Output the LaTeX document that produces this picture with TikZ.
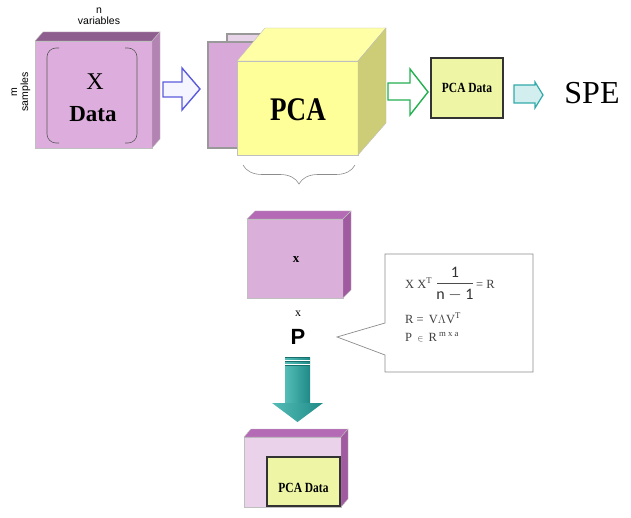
\documentclass[tikz,border=0pt]{standalone}
\usepackage{fontspec}
\setmainfont{Liberation Serif}
\newfontfamily\sansf{Liberation Sans}
\newfontfamily\condf[FakeStretch=0.82]{Liberation Serif}
\newfontfamily\carl{Carlito}
\usetikzlibrary{decorations.pathreplacing}
\definecolor{dfront}{HTML}{DDADDD}
\definecolor{dtop}{HTML}{8E5E8E}
\definecolor{dside}{HTML}{B383B3}
\definecolor{xfront}{HTML}{DAB0DA}
\definecolor{xtop}{HTML}{B46AB4}
\definecolor{xside}{HTML}{A05AA0}
\definecolor{bfront}{HTML}{EAD2EA}
\definecolor{pfront}{HTML}{FFFF99}
\definecolor{ptop}{HTML}{FFFFA6}
\definecolor{pside}{HTML}{CDCD78}
\definecolor{pdata}{HTML}{EEF6A6}
\definecolor{card}{HTML}{D8A8D8}
\definecolor{cardb}{HTML}{E8D4E8}
\definecolor{cardedge}{HTML}{999999}
\definecolor{blueedge}{HTML}{5A5ADC}
\definecolor{greenedge}{HTML}{22B050}
\definecolor{tealedge}{HTML}{33AAAA}
\definecolor{tealfill}{HTML}{D2EEEE}
\definecolor{tealA}{HTML}{55BDB8}
\definecolor{tealB}{HTML}{1E8A86}
\begin{document}
\begin{tikzpicture}[x=1pt,y=-1pt,
  face/.style={draw=black!25,line width=0.4pt},
  pdbox/.style={draw=black!80,line width=1.2pt,fill=pdata},
  pdtext/.style={font=\condf\bfseries\fontsize{14}{14}\selectfont},
  lbl/.style={font=\sansf\fontsize{10.5}{11}\selectfont,align=center,inner sep=0pt},
  frm/.style={font=\fontsize{12.5}{13}\selectfont,inner sep=0pt,anchor=base west,text=black!75}]
\useasboundingbox (0,0) rectangle (631,518);

% ---- Data cube
\fill[dfront,face] (35,41) rectangle (152,148);
\fill[dtop,face] (35,41) -- (43,32) -- (160,32) -- (152,41) -- cycle;
\fill[dside,face] (152,41) -- (160,32) -- (160,139) -- (152,148) -- cycle;
\draw[black!65,line width=0.6pt,rounded corners=9pt] (59,48) -- (47,48) -- (47,143) -- (59,143);
\draw[black!65,line width=0.6pt,rounded corners=9pt] (125,48) -- (137,48) -- (137,143) -- (125,143);
\node[font=\fontsize{24}{24}\selectfont,inner sep=0pt] (X) at (95,82) {X};
\node[font=\bfseries\fontsize{23}{23}\selectfont,inner sep=0pt] (data) at (93,114) {Data};
\node[lbl] (nvar) at (99,16) {n\\variables};
\node[lbl,rotate=90] (msam) at (21,92) {m\\samples};

% ---- blue arrow
\draw[blueedge,line width=1.4pt,fill=blue!4,line join=miter]
  (163,82) -- (182,82) -- (182,68) -- (200,89) -- (182,110) -- (182,97) -- (163,97) -- cycle;

% ---- PCA stack
\draw[cardedge,line width=1.6pt,fill=cardb] (227,34) rectangle (300,140);
\draw[cardedge,line width=1.8pt,fill=card] (208,42) rectangle (300,148);
\fill[pfront,face] (237,61) rectangle (358,155);
\fill[ptop,face] (237,61) -- (265,28) -- (386,28) -- (358,61) -- cycle;
\fill[pside,face] (358,61) -- (386,28) -- (386,123) -- (358,155) -- cycle;
\node[font=\condf\bfseries\fontsize{33}{33}\selectfont,inner sep=0pt] (pca) at (298,110) {PCA};
\coordinate (bl) at (243,165);
\coordinate (br) at (355,165);
\draw[black!45,line width=0.6pt,decorate,
  decoration={brace,mirror,amplitude=19pt}] (bl) -- (br);

% ---- green arrow
\draw[greenedge,line width=1.4pt,fill=white,line join=miter]
  (388,83) -- (410,83) -- (410,69) -- (428,92) -- (410,115) -- (410,100) -- (388,100) -- cycle;

% ---- PCA Data box (top)
\node[pdbox,minimum width=72pt,minimum height=60pt,inner sep=0pt] (pd1) at (467,88) {};
\node[pdtext] at (pd1) {PCA Data};

% ---- teal arrow
\draw[tealedge,line width=1.2pt,fill=tealfill,line join=miter]
  (514,85) -- (535,85) -- (535,82) -- (543,95) -- (535,108) -- (535,103) -- (514,103) -- cycle;
\node[font=\fontsize{32}{32}\selectfont,inner sep=0pt] (spe) at (592,93) {SPE};

% ---- small x cube
\fill[xfront,face] (247,219) rectangle (343,298);
\fill[xtop,face] (247,219) -- (255,211) -- (351,211) -- (343,219) -- cycle;
\fill[xside,face] (343,219) -- (351,211) -- (351,290) -- (343,298) -- cycle;
\node[font=\bfseries\fontsize{13}{13}\selectfont,inner sep=0pt] (xs) at (296,260) {x};
\node[font=\fontsize{12}{12}\selectfont,inner sep=0pt] (times) at (298,314) {x};
\node[font=\sansf\bfseries\fontsize{22}{22}\selectfont,inner sep=0pt] (P) at (298,337) {P};

% ---- callout
\draw[black!45,line width=0.7pt,fill=white]
  (385,254) -- (533,254) -- (533,372) -- (385,372) -- (385,355) -- (337,337) -- (385,323) -- cycle;
\node[frm] (l1) at (405,288) {X X\textsuperscript{T}};
\node[font=\carl\fontsize{16}{16}\selectfont,inner sep=0pt,text=black!80] (one) at (455,272) {1};
\node[font=\carl\fontsize{16}{16}\selectfont,inner sep=0pt,text=black!80] (nm1) at (455,295) {n $-$ 1};
\draw[black!70,line width=0.8pt] (437,283) -- (473,283);
\node[frm] (l1b) at (476,288) {= R};
\node[frm] (l2) at (405,323) {R =\, V$\Lambda$V\textsuperscript{T}};
\node[frm] (l3) at (405,341) {P \,$\scriptstyle\in$\, R\,\textsuperscript{m x a}};

% ---- down teal arrow
\shade[left color=tealA,right color=tealB,shading angle=90] (285,357) rectangle (310,404);
\shade[left color=tealA,right color=tealB] (272,403) -- (323,403) -- (297.5,422) -- cycle;
\draw[white,line width=0.6pt] (285,360) -- (310,360) (285,364) -- (310,364);
\draw[tealB!80!black,line width=0.5pt] (285,357) -- (310,357) (285,361.5) -- (310,361.5) (285,365.5) -- (310,365.5);

% ---- bottom cube
\fill[bfront,face] (244,437) rectangle (341,507);
\fill[xtop,face] (244,437) -- (251,429) -- (348,429) -- (341,437) -- cycle;
\fill[xside,face] (341,437) -- (348,429) -- (348,499) -- (341,507) -- cycle;
\node[pdbox,minimum width=73pt,minimum height=49pt,inner sep=0pt] (pd2) at (303.5,481.5) {};
\node[pdtext] at (303.5,488) {PCA Data};
\end{tikzpicture}
\end{document}
